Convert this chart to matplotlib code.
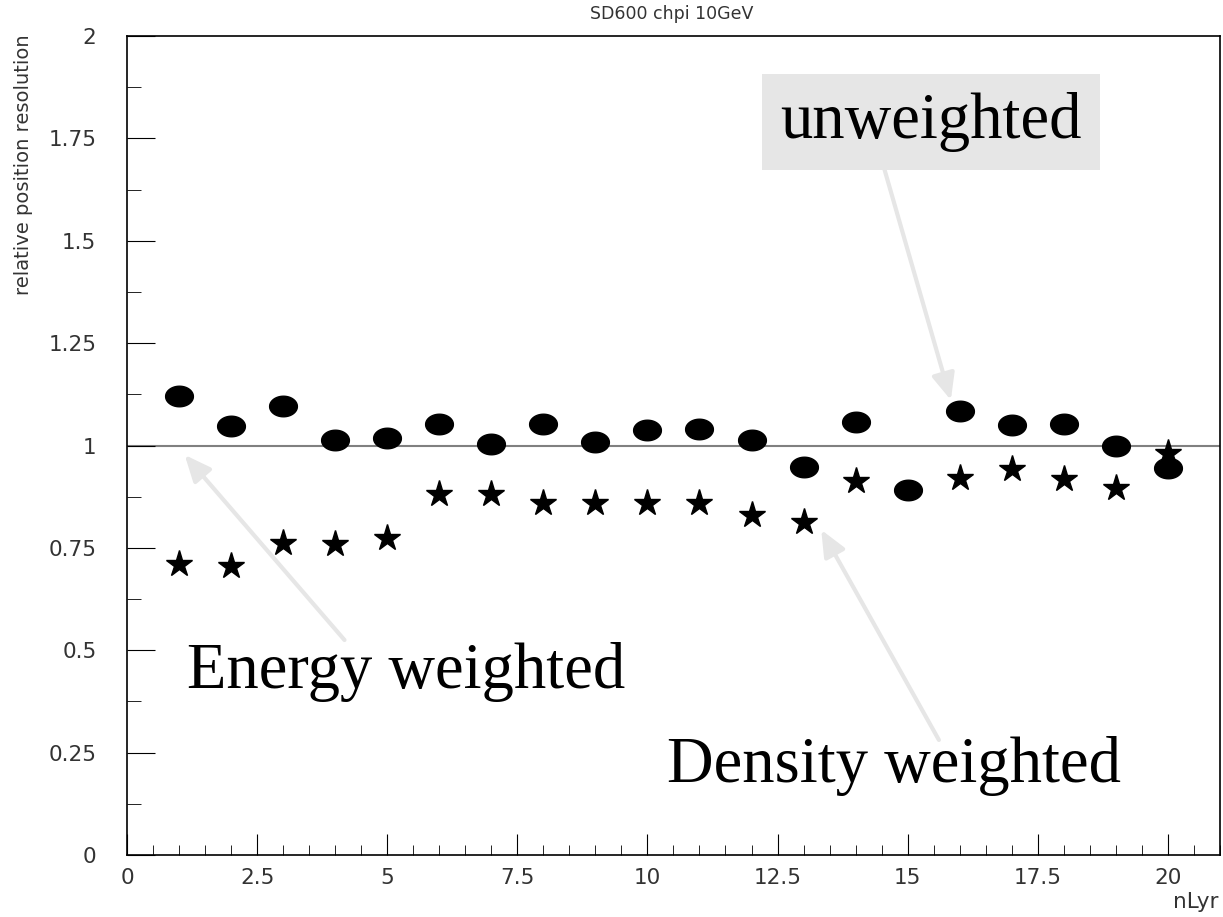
import numpy as np
import matplotlib
matplotlib.use("Agg")
import matplotlib.pyplot as plt
from matplotlib.path import Path
from matplotlib.ticker import MultipleLocator, FuncFormatter

n_layers = list(range(1, 21))
unweighted = [1.121, 1.048, 1.096, 1.013, 1.018, 1.052, 1.004, 1.052, 1.009, 1.038,
              1.040, 1.013, 0.947, 1.057, 0.891, 1.084, 1.050, 1.052, 0.999, 0.945]
# value at layer 15 is hidden behind the unweighted marker in the reference
density_weighted = [0.711, 0.706, 0.762, 0.759, 0.774, 0.882, 0.882, 0.860, 0.860, 0.860,
                    0.860, 0.830, 0.813, 0.913, np.nan, 0.921, 0.943, 0.918, 0.896, 0.982]
title = "SD600 chpi 10GeV"
xlabel = "nLyr"
ylabel = "relative position resolution"

fig = plt.figure(figsize=(12.23, 9.17), dpi=100)
ax = fig.add_axes([0.1038, 0.0676, 0.8937, 0.8931])
ax.set_xlim(0, 21)
ax.set_ylim(0, 2)

# ellipse marker
t = np.linspace(0, 2 * np.pi, 60)
ell = Path(np.column_stack([1.35 * np.cos(t), np.sin(t)]), closed=True)

ax.axhline(1.0, color="#808080", lw=1.5, zorder=1)
ax.plot(n_layers, density_weighted, ls="none", marker="*", ms=20, color="black", zorder=2)
ax.plot(n_layers, unweighted, ls="none", marker=ell, ms=20, color="black", zorder=3)

# ticks
ax.xaxis.set_major_locator(MultipleLocator(2.5))
ax.xaxis.set_minor_locator(MultipleLocator(0.5))
ax.yaxis.set_major_locator(MultipleLocator(0.25))
ax.yaxis.set_minor_locator(MultipleLocator(0.125))
fmt = FuncFormatter(lambda v, p: ("%g" % v))
ax.xaxis.set_major_formatter(fmt)
ax.yaxis.set_major_formatter(fmt)
ax.tick_params(axis="both", which="both", direction="in", top=False, right=False,
               labelsize=15.5, colors="black")
ax.tick_params(axis="x", which="major", length=15, pad=9)
ax.tick_params(axis="x", which="minor", length=7)
ax.tick_params(axis="y", which="major", length=20, pad=22)
ax.tick_params(axis="y", which="minor", length=10)
for lab in ax.get_xticklabels() + ax.get_yticklabels():
    lab.set_color("#333333")
for s in ax.spines.values():
    s.set_linewidth(1.2)

fig.text(0.5495, 0.985, title, ha="center", va="center", fontsize=12.5, color="#333333")
fig.text(0.019, 0.962, ylabel, rotation=90, ha="center", va="top", fontsize=14, color="#333333")
fig.text(0.996, 0.016, xlabel, ha="right", va="center", fontsize=15.5, color="#333333")

serif = "Liberation Serif"
arrow_kw = dict(arrowstyle="-|>,head_length=1.6,head_width=0.7", color="#e6e6e6", lw=3,
                shrinkA=0, shrinkB=0)
ax.annotate("", xy=(15.83, 1.111), xytext=(14.53, 1.685), arrowprops=arrow_kw, zorder=4)
ax.annotate("", xy=(1.11, 0.977), xytext=(4.18, 0.525), arrowprops=arrow_kw, zorder=4)
ax.annotate("", xy=(13.34, 0.794), xytext=(15.6, 0.281), arrowprops=arrow_kw, zorder=4)

ax.text(12.55, 1.751, "unweighted", family=serif, fontsize=46.5, ha="left", va="baseline",
        bbox=dict(boxstyle="square,pad=0.28", fc="#e6e6e6", ec="none"), zorder=5)
ax.text(1.15, 0.408, "Energy weighted", family=serif, fontsize=46.5, ha="left", va="baseline", zorder=5)
ax.text(10.38, 0.178, "Density weighted", family=serif, fontsize=46.5, ha="left", va="baseline", zorder=5)

fig.savefig("out.png", dpi=100)
